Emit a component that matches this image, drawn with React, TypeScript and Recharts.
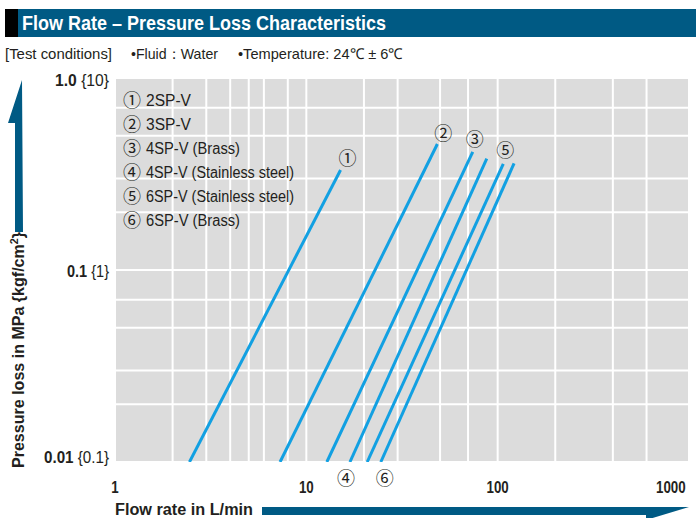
import React from 'react';
import { LineChart, Line, XAxis, YAxis, CartesianGrid, Legend } from 'recharts';

// series: straight lines on log-log paper, read at both ends
const marks = ['①', '②', '③', '④', '⑤', '⑥'];
const models = [
  '2SP-V',
  '3SP-V',
  '4SP-V (Brass)',
  '4SP-V (Stainless steel)',
  '6SP-V (Stainless steel)',
  '6SP-V (Brass)',
];
const flowLow = [2.45, 7.29, 12.8, 16.9, 20.8, 24.5];
const lossLow = [0.01, 0.01, 0.01, 0.01, 0.01, 0.01];
const flowHigh = [15.1, 48.4, 74.1, 87.7, 107, 121.8];
const lossHigh = [0.332, 0.453, 0.412, 0.38, 0.357, 0.359];

// axis ticks (grid lines) and labelled ones
const xTicks = [1, 2, 3, 4, 5, 6, 7, 8, 9, 10, 20, 30, 40, 50, 60, 70, 80, 90, 100, 200, 300, 400, 500, 600, 700, 800, 900, 1000];
const xLabels: Record<number, string> = { 1: '1', 10: '10', 100: '100', 1000: '1000' };
const yTicks = [0.01, 0.02, 0.03, 0.04, 0.05, 0.06, 0.07, 0.08, 0.09, 0.1, 0.2, 0.3, 0.4, 0.5, 0.6, 0.7, 0.8, 0.9, 1];
const yLabels: Record<number, [string, string]> = { 1: ['1.0', '{10}'], 0.1: ['0.1', '{1}'], 0.01: ['0.01', '{0.1}'] };

const FONT = "'Liberation Sans', Arial, sans-serif";
const CIRC = "'Noto Sans CJK JP', 'DejaVu Sans', sans-serif";
const BLUE = '#005a84';
const LINE = '#12a0e2';
const TEXT = '#231f20';

// widths the condensed original type takes (px)
const legendTextWidth = [45, 45, 94, 148, 148, 94];
const yLabelWidth: Record<number, number> = { 1: 54, 0.1: 42, 0.01: 65 };
const yLabelDy: Record<number, number> = { 1: 8, 0.1: 7, 0.01: 1 };

// where each number sits relative to its line (end 0 = bottom, 1 = top)
const markPos = [
  { end: 1, dx: 7, dy: -12 },
  { end: 1, dx: 6, dy: -11 },
  { end: 1, dx: 2, dy: -13 },
  { end: 0, dx: -4, dy: 16 },
  { end: 1, dx: 2, dy: -14 },
  { end: 0, dx: 4, dy: 16 },
];

const seriesData = marks.map((_, i) => [
  { q: flowLow[i], p: lossLow[i] },
  { q: flowHigh[i], p: lossHigh[i] },
]);

const XTick = (props: any) => {
  const { x, y, payload } = props;
  const t = xLabels[payload.value];
  if (!t) return null;
  const last = payload.value === 1000;
  return (
    <text x={last ? x - 24 : x} y={y + 23} textAnchor={last ? 'start' : 'middle'}
      textLength={t.length * 7.4} lengthAdjust="spacingAndGlyphs"
      fontFamily={FONT} fontWeight="bold" fontSize={16} fill={TEXT}>
      {t}
    </text>
  );
};

const YTick = (props: any) => {
  const { y, payload } = props;
  const t = yLabels[payload.value];
  if (!t) return null;
  const w = yLabelWidth[payload.value];
  return (
    <text x={109 - w} y={y + yLabelDy[payload.value]} textLength={w} lengthAdjust="spacingAndGlyphs"
      fontFamily={FONT} fontSize={16} fill={TEXT}>
      <tspan fontWeight="bold">{t[0]}</tspan> <tspan>{t[1]}</tspan>
    </text>
  );
};

const makeMark = (i: number) => (props: any) => {
  const { x, y, index } = props;
  const pos = markPos[i];
  if (index !== pos.end) return null;
  return (
    <text key={'m' + i} x={x + pos.dx} y={y + pos.dy + 7} textAnchor="middle" fontFamily={CIRC} fontSize={18} fill={TEXT}>
      {marks[i]}
    </text>
  );
};

const LegendBox = () => (
  <svg width={200} height={150}>
    {models.map((m, i) => (
      <g key={m}>
        <text x={12} y={22 + i * 23.9} textAnchor="middle" fontFamily={CIRC} fontSize={18} fill={TEXT}>
          {marks[i]}
        </text>
        <text x={26} y={21 + i * 23.9} textLength={legendTextWidth[i]} lengthAdjust="spacingAndGlyphs"
          fontFamily={FONT} fontSize={16} fill={TEXT}>
          {m}
        </text>
      </g>
    ))}
  </svg>
);

export default function App() {
  return (
    <div style={{ position: 'absolute', left: 0, top: 0, width: 696, height: 518, background: '#fff', overflow: 'hidden' }}>
      <LineChart
        width={696}
        height={518}
        margin={{ top: 78, right: 7, bottom: 26, left: 15 }}
        style={{ position: 'absolute', left: 0, top: 0 }}
      >
        <CartesianGrid stroke="#fff" strokeWidth={2} fill="#dcdcdc" fillOpacity={1} />
        <XAxis
          type="number"
          dataKey="q"
          scale="log"
          domain={[1, 1000]}
          ticks={xTicks}
          allowDataOverflow
          axisLine={false}
          tickLine={false}
          height={30}
          tick={<XTick />}
        />
        <YAxis
          type="number"
          dataKey="p"
          scale="log"
          domain={[0.01, 1]}
          ticks={yTicks}
          allowDataOverflow
          axisLine={false}
          tickLine={false}
          width={100}
          tick={<YTick />}
        />
        <Legend
          layout="vertical"
          align="center"
          verticalAlign="middle"
          wrapperStyle={{ left: 120, top: 85, width: 200, height: 150 }}
          content={<LegendBox />}
        />
        {seriesData.map((d, i) => (
          <Line
            key={models[i]}
            data={d}
            dataKey="p"
            name={models[i]}
            type="linear"
            stroke={LINE}
            strokeWidth={3}
            dot={false}
            activeDot={false}
            isAnimationActive={false}
            label={makeMark(i)}
          />
        ))}
      </LineChart>

      <svg width={696} height={518} style={{ position: 'absolute', left: 0, top: 0, pointerEvents: 'none' }}>
        <rect x={5} y={9} width={13} height={28} fill="#000" />
        <rect x={18} y={9} width={678} height={28} fill={BLUE} />
        <text x={22} y={30} textLength={364} lengthAdjust="spacingAndGlyphs"
          fontFamily={FONT} fontWeight="bold" fontSize={20} fill="#fff">
          Flow Rate – Pressure Loss Characteristics
        </text>
        <g fontFamily={FONT} fontSize={15} fill={TEXT}>
          <text x={5} y={59} textLength={107} lengthAdjust="spacingAndGlyphs">[Test conditions]</text>
          <text x={131} y={59} textLength={87} lengthAdjust="spacingAndGlyphs">•Fluid：Water</text>
          <text x={238} y={59} textLength={165} lengthAdjust="spacingAndGlyphs">•Temperature: 24℃ ± 6℃</text>
        </g>

        <polygon points="22,80 23,232 15,232 15,123 8,123" fill={BLUE} />
        <text transform="translate(24,468) rotate(-90)" textLength={236} lengthAdjust="spacingAndGlyphs"
          fontFamily={FONT} fontWeight="bold" fontSize={16.5} fill={TEXT}>
          Pressure loss in MPa {'{'}kgf/cm<tspan dy={-6} fontSize={11}>2</tspan><tspan dy={6}>{'}'}</tspan>
        </text>

        <text x={115} y={515} textLength={138} lengthAdjust="spacingAndGlyphs"
          fontFamily={FONT} fontWeight="bold" fontSize={16} fill={TEXT}>
          Flow rate in L/min
        </text>
        <polygon points="262,507 689,507 646,520 646,515 262,515" fill={BLUE} />
      </svg>
    </div>
  );
}
